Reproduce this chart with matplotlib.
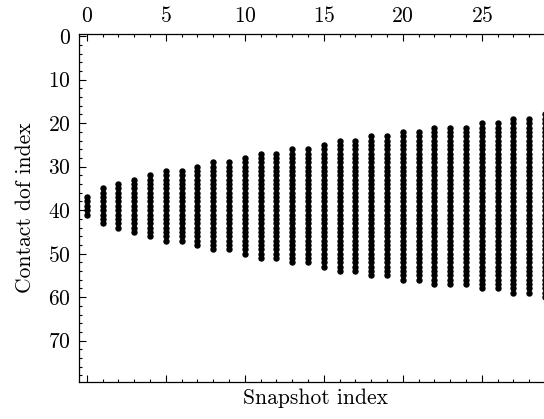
import numpy as np
import matplotlib
matplotlib.use("Agg")
import matplotlib.pyplot as plt
from matplotlib.ticker import MultipleLocator

plt.rcParams['font.family'] = 'serif'
plt.rcParams['font.serif'] = ['cmr10']
plt.rcParams['mathtext.fontset'] = 'cm'
plt.rcParams['axes.formatter.use_mathtext'] = True

# contact dofs active in each snapshot (first and last row of each column)
n_dofs = 80
snapshots = list(range(30))
first_dof = [37, 35, 34, 33, 32, 31, 31, 30, 29, 29,
             28, 27, 27, 26, 26, 25, 24, 24, 23, 23,
             22, 22, 21, 21, 21, 20, 20, 19, 19, 18]
last_dof = [41, 43, 44, 45, 46, 47, 47, 48, 49, 49,
            50, 51, 51, 52, 52, 53, 54, 54, 55, 55,
            56, 56, 57, 57, 57, 58, 58, 59, 59, 60]

pattern = np.zeros((n_dofs, len(snapshots)))
for j, (a, b) in enumerate(zip(first_dof, last_dof)):
    pattern[a:b + 1, j] = 1

fig = plt.figure(figsize=(5.44, 4.19), dpi=100)
ax = fig.add_axes([0.1452, 0.0883, 0.8713, 0.8305])
ax.spy(pattern, marker='o', markersize=3.6, color='k', aspect='auto')

ax.xaxis.set_major_locator(MultipleLocator(5))
ax.xaxis.set_minor_locator(MultipleLocator(1))
ax.yaxis.set_major_locator(MultipleLocator(10))
ax.yaxis.set_minor_locator(MultipleLocator(2))
ax.tick_params(which='both', direction='in', top=True, bottom=True,
               left=True, right=False, labelsize=15.5, width=0.8)
ax.tick_params(which='major', length=5, pad=6)
ax.tick_params(which='minor', length=2.5)
for s in ax.spines.values():
    s.set_linewidth(0.9)

ax.set_xlabel('Snapshot index', fontsize=15.5, labelpad=5)
ax.set_ylabel('Contact dof index', fontsize=15.5, labelpad=9)

fig.savefig('out.png', dpi=100)
